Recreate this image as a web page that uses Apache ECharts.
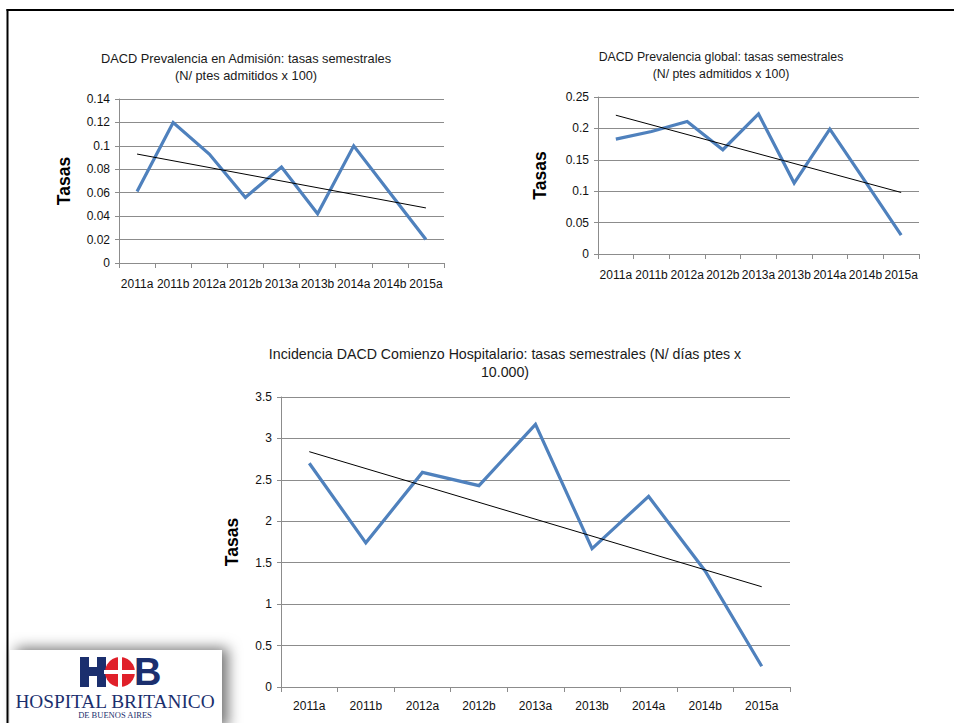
<!DOCTYPE html>
<html><head><meta charset="utf-8">
<script src="https://cdn.jsdelivr.net/npm/echarts@6/dist/echarts.min.js"></script>
<style>html,body{margin:0;padding:0;background:#fff}#c{width:954px;height:723px}</style>
</head><body><div id="c"></div>
<script>
// ---- data ----
const categories = ['2011a','2011b','2012a','2012b','2013a','2013b','2014a','2014b','2015a'];
const admisionValues = [0.061,0.120,0.093,0.056,0.082,0.042,0.100,0.060,0.020];
const admisionTrend = [0.093,0.047];
const globalValues = [0.183,0.195,0.211,0.166,0.223,0.113,0.199,0.115,0.030];
const globalTrend = [0.221,0.098];
const incidenciaValues = [2.70,1.74,2.59,2.43,3.17,1.67,2.30,1.40,0.25];
const incidenciaTrend = [2.84,1.21];
const admisionTitle = ['DACD Prevalencia en Admisión: tasas semestrales','(N/ ptes admitidos x 100)'];
const globalTitle = ['DACD Prevalencia global: tasas semestrales','(N/ ptes admitidos x 100)'];
const incidenciaTitle = ['Incidencia DACD Comienzo Hospitalario: tasas semestrales (N/ días ptes x','10.000)'];
const yAxisName = 'Tasas';
const logoName = 'HOSPITAL BRITANICO';
const logoSub = 'DE BUENOS AIRES';

// ---- styling / layout ----
const FONT = '"Liberation Sans", Arial, sans-serif';
const GRID_C = '#8c8c8c';
const BLUE = '#4F81BD';
const NAVY = '#1b2f6e';

const panels = [
  {values: admisionValues, trend: admisionTrend, title: admisionTitle, max: 0.14, interval: 0.02,
   grid: {left: 119, top: 99, width: 325, height: 164}, tx: 246, ty: [58, 75], nameGap: 46, xMargin: 15, tfs: 12.8},
  {values: globalValues, trend: globalTrend, title: globalTitle, max: 0.25, interval: 0.05,
   grid: {left: 598, top: 97, width: 321, height: 157}, tx: 721, ty: [57, 74], nameGap: 49, xMargin: 15, tfs: 12.3},
  {values: incidenciaValues, trend: incidenciaTrend, title: incidenciaTitle, max: 3.5, interval: 0.5,
   grid: {left: 281, top: 397, width: 509, height: 290}, tx: 505, ty: [354, 372], nameGap: 40, xMargin: 13, tfs: 14.2}
];

const option = {
  animation: false,
  backgroundColor: '#ffffff',
  grid: panels.map(p => Object.assign({containLabel: false}, p.grid)),
  xAxis: panels.map((p, i) => ({
    type: 'category', gridIndex: i, data: categories, boundaryGap: true,
    axisLine: {show: true, lineStyle: {color: GRID_C, width: 1}},
    axisTick: {show: true, length: 5, lineStyle: {color: GRID_C}},
    axisLabel: {interval: 0, margin: p.xMargin, fontSize: 12, color: '#111', fontFamily: FONT},
    splitLine: {show: false}
  })),
  yAxis: panels.map((p, i) => ({
    type: 'value', gridIndex: i, min: 0, max: p.max, interval: p.interval,
    axisLine: {show: true, lineStyle: {color: GRID_C, width: 1}},
    axisTick: {show: true, length: 4, lineStyle: {color: GRID_C}},
    axisLabel: {margin: 9, fontSize: 12, color: '#111', fontFamily: FONT},
    splitLine: {show: true, lineStyle: {color: GRID_C, width: 1}},
    name: yAxisName, nameLocation: 'middle', nameRotate: 90, nameGap: p.nameGap,
    nameTextStyle: {fontSize: 17.5, fontWeight: 'bold', color: '#000', fontFamily: FONT}
  })),
  series: panels.map((p, i) => ({
    type: 'line', xAxisIndex: i, yAxisIndex: i, data: p.values,
    showSymbol: false, symbol: 'none',
    lineStyle: {width: 3.2, color: BLUE, join: 'miter'},
    itemStyle: {color: BLUE},
    markLine: {
      silent: true, symbol: ['none', 'none'], label: {show: false},
      lineStyle: {color: '#000', width: 1, type: 'solid'},
      data: [[{coord: [categories[0], p.trend[0]]}, {coord: [categories[categories.length - 1], p.trend[1]]}]]
    }
  })),
  graphic: []
};

// titles
panels.forEach(p => {
  p.title.forEach((line, k) => {
    option.graphic.push({
      type: 'text', x: p.tx, y: p.ty[k], silent: true,
      style: {text: line, fill: '#1a1a1a', fontSize: p.tfs, fontFamily: FONT,
              align: 'center', verticalAlign: 'middle', textAlign: 'center', textVerticalAlign: 'middle'}
    });
  });
});

// frame lines
option.graphic.push(
  {type: 'line', silent: true, shape: {x1: 6.5, y1: 10, x2: 954, y2: 10}, style: {stroke: '#000', lineWidth: 2}},
  {type: 'line', silent: true, shape: {x1: 7.5, y1: 9, x2: 7.5, y2: 723}, style: {stroke: '#000', lineWidth: 2}}
);

// logo
option.graphic.push(
  {type: 'rect', silent: true, shape: {x: 10, y: 650, width: 212, height: 80},
   style: {fill: '#fff', shadowBlur: 14, shadowColor: 'rgba(0,0,0,0.55)', shadowOffsetX: 6, shadowOffsetY: -2}},
  {type: 'rect', silent: true, shape: {x: 80, y: 657, width: 9, height: 30}, style: {fill: NAVY}},
  {type: 'rect', silent: true, shape: {x: 88, y: 667, width: 12, height: 9}, style: {fill: NAVY}},
  {type: 'rect', silent: true, shape: {x: 97, y: 657, width: 9, height: 30}, style: {fill: NAVY}},
  {type: 'circle', silent: true, shape: {cx: 120, cy: 672, r: 15}, style: {fill: '#e0202a'}},
  {type: 'rect', silent: true, shape: {x: 104, y: 670, width: 32, height: 4}, style: {fill: '#fff'}},
  {type: 'rect', silent: true, shape: {x: 118, y: 656, width: 4, height: 32}, style: {fill: '#fff'}},
  {type: 'text', silent: true, x: 134, y: 672,
   style: {text: 'B', fill: NAVY, fontSize: 38, fontWeight: 'bold', fontFamily: FONT,
           align: 'left', verticalAlign: 'middle', textAlign: 'left', textVerticalAlign: 'middle'}},
  {type: 'text', silent: true, x: 115, y: 701,
   style: {text: logoName, fill: NAVY, fontSize: 19.3, fontFamily: '"Liberation Serif", "Times New Roman", serif',
           align: 'center', verticalAlign: 'middle', textAlign: 'center', textVerticalAlign: 'middle'}},
  {type: 'text', silent: true, x: 115, y: 715,
   style: {text: logoSub, fill: NAVY, fontSize: 8.5, fontFamily: '"Liberation Serif", "Times New Roman", serif',
           align: 'center', verticalAlign: 'middle', textAlign: 'center', textVerticalAlign: 'middle'}}
);

const chart = echarts.init(document.getElementById('c'), null, {renderer: 'svg', width: 954, height: 723});
chart.setOption(option);
</script>
</body></html>
